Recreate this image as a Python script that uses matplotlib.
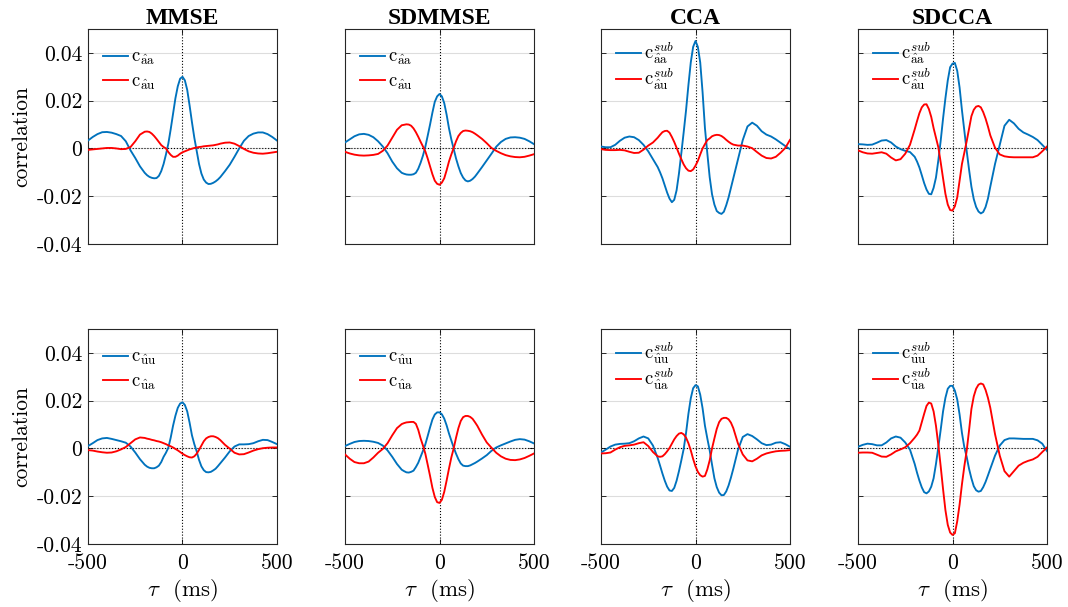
import matplotlib
matplotlib.use("Agg")
import matplotlib.pyplot as plt

plt.rcParams['font.family'] = ['cmr10', 'DejaVu Serif']
plt.rcParams['mathtext.fontset'] = 'cm'
plt.rcParams['axes.unicode_minus'] = False
plt.rcParams['axes.formatter.use_mathtext'] = True

# lag axis (ms): 25 ms steps outside, 12.5 ms steps in the centre
tau = list(range(-500, -199, 25)) + [t / 2 for t in range(-375, 376, 25)] + list(range(200, 501, 25))

# ===== top row: estimated target vs target / interferer =====
mmse_aa = [0.0033, 0.0048, 0.006, 0.0068, 0.0069, 0.0066, 0.006, 0.0052, 0.003, -0.0008, -0.004, -0.0075, -0.0102,
           -0.0112, -0.0119, -0.0123, -0.0125, -0.0124, -0.0115, -0.0095, -0.0065, -0.0025, 0.002, 0.008, 0.0145,
           0.021, 0.026, 0.0292, 0.030, 0.0285, 0.0245, 0.018, 0.011, 0.0045, -0.001, -0.0065, -0.0105, -0.013,
           -0.0143, -0.0149, -0.0148, -0.0144, -0.0138, -0.013,
           -0.012, -0.0095, -0.0068, -0.0035, 0.0, 0.0032, 0.0052, 0.0062, 0.0067, 0.0067, 0.006, 0.0048, 0.0033]
mmse_au = [-0.0006, -0.0004, -0.0002, 0.0, 0.0002, 0.0002, 0.0, -0.0003, -0.0002, 0.0006, 0.003, 0.0058, 0.007,
           0.0071, 0.0069, 0.0062, 0.0052, 0.004, 0.0027, 0.0014, 0.0006, 0.0, -0.0015, -0.0027, -0.0035,
           -0.0035, -0.003, -0.0022, -0.0016, -0.0012, -0.0008, -0.0004, -0.0001, 0.0002, 0.0004, 0.0006, 0.0007,
           0.0009, 0.001, 0.0011, 0.0012, 0.0013, 0.0015, 0.0017,
           0.002, 0.0024, 0.0025, 0.002, 0.001, -0.0002, -0.0012, -0.0018, -0.0021, -0.0022, -0.002, -0.0017, -0.0014]

sdmmse_aa = [0.0025, 0.0038, 0.0051, 0.0059, 0.0061, 0.0057, 0.0047, 0.003, 0.0008, -0.002, -0.0055, -0.0083, -0.0102,
             -0.0106, -0.0109, -0.011, -0.011, -0.0108, -0.0102, -0.0085, -0.006, -0.003, 0.0007, 0.0053, 0.01,
             0.015, 0.0195, 0.0218, 0.0228, 0.0218, 0.019, 0.0142, 0.0085, 0.0038, -0.0002, -0.0042, -0.0075,
             -0.0103, -0.0122, -0.0134, -0.0138, -0.0135, -0.0128, -0.0118,
             -0.0105, -0.0078, -0.005, -0.0022, 0.0007, 0.0027, 0.004, 0.0046, 0.0047, 0.0045, 0.004, 0.003, 0.0018]
sdmmse_au = [-0.0014, -0.0021, -0.0026, -0.0029, -0.003, -0.0029, -0.0027, -0.0023, -0.001, 0.0012, 0.0045, 0.0078, 0.0097,
             0.0099, 0.0101, 0.01, 0.0095, 0.0084, 0.0068, 0.0049, 0.0028, 0.0008, -0.0012, -0.0042, -0.0075,
             -0.0108, -0.0135, -0.0148, -0.0152, -0.0143, -0.0125, -0.0092, -0.0055, -0.0025, 0.0002, 0.003, 0.0052,
             0.0065, 0.0073, 0.0075, 0.0074, 0.0072, 0.0068, 0.0062,
             0.0055, 0.004, 0.0022, 0.0002, -0.001, -0.002, -0.0028, -0.0033, -0.0036, -0.0037, -0.0035, -0.003, -0.0024]

cca_aa = [0.0008, 0.0005, 0.0005, 0.0015, 0.0032, 0.0045, 0.005, 0.0047, 0.0035, 0.0015, -0.0012, -0.0045, -0.0078,
          -0.01, -0.0125, -0.0155, -0.0185, -0.021, -0.0225, -0.0215, -0.0175, -0.0105, -0.002, 0.0068, 0.016,
          0.0265, 0.036, 0.0425, 0.045, 0.0425, 0.036, 0.0235, 0.0085, -0.002, -0.012, -0.0192, -0.0235,
          -0.0262, -0.027, -0.0274, -0.0265, -0.0238, -0.0205, -0.0165,
          -0.0125, -0.0045, 0.0035, 0.0092, 0.0108, 0.0095, 0.0072, 0.0058, 0.005, 0.0038, 0.0024, 0.001, -0.0003]
cca_au = [-0.0003, -0.0006, -0.0007, -0.0007, -0.0006, -0.0008, -0.0014, -0.0019, -0.0018, -0.0005, 0.0012, 0.0025, 0.0045,
          0.0057, 0.0068, 0.0073, 0.0074, 0.0066, 0.0048, 0.0027, 0.0003, -0.0022, -0.0045, -0.0067, -0.0083,
          -0.0093, -0.0095, -0.0088, -0.0072, -0.0052, -0.0025, 0.0, 0.0018, 0.0035, 0.0042, 0.0051, 0.0055,
          0.0057, 0.0056, 0.0052, 0.0045, 0.0036, 0.0028, 0.0021,
          0.0016, 0.0012, 0.0012, 0.0008, 0.0001, -0.0015, -0.003, -0.004, -0.0042, -0.0035, -0.0018, 0.0002, 0.0036]

sdcca_aa = [0.0018, 0.0017, 0.0015, 0.0016, 0.0024, 0.0033, 0.0035, 0.0025, 0.0008, -0.0003, -0.001, -0.0015, -0.0035,
            -0.0055, -0.008, -0.0112, -0.0145, -0.0172, -0.019, -0.0192, -0.0165, -0.0122, -0.005, 0.0032, 0.0125,
            0.021, 0.0285, 0.034, 0.0355, 0.0358, 0.0325, 0.0255, 0.016, 0.0075, -0.001, -0.0088, -0.016,
            -0.0212, -0.0245, -0.0264, -0.0272, -0.0266, -0.0245, -0.021,
            -0.016, -0.0065, 0.0015, 0.0095, 0.012, 0.0105, 0.0082, 0.0067, 0.0058, 0.0048, 0.0035, 0.0015, -0.0006]
sdcca_au = [-0.0008, -0.0016, -0.0021, -0.0022, -0.0019, -0.0016, -0.0022, -0.0038, -0.005, -0.0045, -0.0022, 0.0015, 0.008,
            0.0115, 0.0148, 0.0172, 0.0184, 0.0185, 0.0165, 0.0132, 0.0085, 0.0045, 0.0005, -0.0058, -0.0125,
            -0.019, -0.0235, -0.0258, -0.026, -0.0242, -0.0205, -0.0135, -0.0065, -0.0018, 0.003, 0.0082, 0.0135,
            0.0162, 0.0175, 0.0178, 0.0172, 0.0152, 0.0125, 0.0092,
            0.0055, 0.0003, -0.0025, -0.0033, -0.0036, -0.0037, -0.0037, -0.0037, -0.0037, -0.0037, -0.003, -0.0012, 0.0008]

# ===== bottom row: estimated interferer vs interferer / target =====
mmse_uu = [0.001, 0.0022, 0.0035, 0.0042, 0.0044, 0.004, 0.0035, 0.003, 0.0024, 0.0008, -0.0017, -0.0045, -0.0068,
           -0.0076, -0.0081, -0.0083, -0.0083, -0.0079, -0.0072, -0.0057, -0.0035, -0.0018, 0.0003, 0.0045, 0.0095,
           0.0137, 0.017, 0.0188, 0.0193, 0.0182, 0.0155, 0.0108, 0.0055, 0.0018, -0.0012, -0.0048, -0.0075,
           -0.0091, -0.0099, -0.01, -0.0098, -0.0092, -0.0085, -0.0074,
           -0.0062, -0.0038, -0.0012, 0.0008, 0.0017, 0.0017, 0.0018, 0.0022, 0.003, 0.0036, 0.0035, 0.0027, 0.0018]
mmse_ua = [-0.0007, -0.0009, -0.0013, -0.0016, -0.0018, -0.0017, -0.0012, -0.0004, 0.0006, 0.0022, 0.0038, 0.0046, 0.0044,
           0.0041, 0.0039, 0.0036, 0.0034, 0.0031, 0.0029, 0.0026, 0.0022, 0.0018, 0.0013, 0.0009, 0.0004,
           -0.0002, -0.0008, -0.0015, -0.0022, -0.0028, -0.0033, -0.0037, -0.0038, -0.0033, -0.0022, -0.0006, 0.0012,
           0.003, 0.0042, 0.0048, 0.0051, 0.0051, 0.0048, 0.0043,
           0.0035, 0.0015, -0.0001, -0.0018, -0.0025, -0.0024, -0.0017, -0.0009, -0.0003, 0.0001, 0.0003, 0.0004, 0.0004]

sdmmse_uu = [0.001, 0.0019, 0.0027, 0.0031, 0.0032, 0.0031, 0.0028, 0.0023, 0.0012, -0.0008, -0.0035, -0.0065, -0.0089,
             -0.0095, -0.01, -0.0101, -0.0098, -0.0093, -0.0078, -0.006, -0.0035, -0.001, 0.0017, 0.0052, 0.0088,
             0.0121, 0.0142, 0.0151, 0.0151, 0.0143, 0.0125, 0.0097, 0.0063, 0.0033, 0.0004, -0.0022, -0.0045,
             -0.0063, -0.0072, -0.0074, -0.0074, -0.0071, -0.0066, -0.0061,
             -0.0055, -0.0042, -0.0028, -0.001, 0.0004, 0.0013, 0.0021, 0.0029, 0.0036, 0.0039, 0.0037, 0.003, 0.0021]
sdmmse_ua = [-0.0025, -0.0043, -0.0057, -0.0062, -0.0062, -0.0055, -0.0038, -0.0018, -0.0002, 0.0022, 0.0055, 0.0085, 0.0102,
             0.0106, 0.0109, 0.011, 0.0111, 0.0111, 0.0103, 0.0078, 0.0042, 0.0012, -0.0022, -0.0068, -0.0115,
             -0.0165, -0.0203, -0.0225, -0.0228, -0.0215, -0.0182, -0.0135, -0.0085, -0.0038, 0.0, 0.0045, 0.0085,
             0.0115, 0.0131, 0.0136, 0.0136, 0.0132, 0.0124, 0.011,
             0.0095, 0.0058, 0.0025, 0.0003, -0.0018, -0.0033, -0.0043, -0.0048, -0.0049, -0.0046, -0.004, -0.0031, -0.0021]

cca_uu = [-0.0017, -0.0005, 0.0008, 0.0016, 0.0019, 0.002, 0.0022, 0.003, 0.0042, 0.005, 0.0042, 0.0012, -0.004,
          -0.0072, -0.0105, -0.0135, -0.016, -0.0176, -0.0178, -0.0165, -0.0135, -0.0095, -0.005, -0.0002, 0.0065,
          0.0145, 0.021, 0.0252, 0.0265, 0.026, 0.0225, 0.0168, 0.0095, 0.0042, -0.0008, -0.0068, -0.0125,
          -0.0162, -0.0185, -0.0196, -0.0195, -0.018, -0.0155, -0.0122,
          -0.0085, -0.0005, 0.0048, 0.006, 0.0052, 0.0038, 0.0022, 0.0014, 0.0016, 0.0024, 0.0026, 0.0018, 0.0007]
cca_ua = [-0.0021, -0.002, -0.0017, -0.0005, 0.0005, 0.0011, 0.0013, 0.0016, 0.0022, 0.0026, 0.001, -0.0015, -0.0033,
          -0.0035, -0.0033, -0.0024, -0.0012, 0.0002, 0.002, 0.0038, 0.0052, 0.0062, 0.0065, 0.0059, 0.0045,
          0.0022, -0.0008, -0.0044, -0.0075, -0.0098, -0.0112, -0.0118, -0.0115, -0.0088, -0.005, 0.0, 0.0042,
          0.0082, 0.011, 0.0124, 0.0128, 0.0128, 0.0122, 0.0108,
          0.0085, 0.002, -0.0025, -0.005, -0.0054, -0.0043, -0.0029, -0.0021, -0.0016, -0.0012, -0.001, -0.0009, -0.0007]

sdcca_uu = [0.0007, 0.0015, 0.002, 0.0018, 0.0013, 0.0013, 0.0025, 0.0042, 0.005, 0.0045, 0.0025, -0.0005, -0.0065,
            -0.0102, -0.0135, -0.0163, -0.0183, -0.0188, -0.018, -0.016, -0.0125, -0.0065, 0.0005, 0.0078, 0.0155,
            0.0212, 0.025, 0.0262, 0.0262, 0.0242, 0.0205, 0.0142, 0.0065, 0.0005, -0.0035, -0.0085, -0.0125,
            -0.0158, -0.0175, -0.0181, -0.0178, -0.0162, -0.014, -0.0113,
            -0.0085, -0.003, 0.0012, 0.0035, 0.0042, 0.0042, 0.0041, 0.004, 0.004, 0.004, 0.0034, 0.002, -0.0011]
sdcca_ua = [-0.0018, -0.0017, -0.0017, -0.0018, -0.0026, -0.0034, -0.0035, -0.0025, -0.0012, -0.0004, 0.0005, 0.0022, 0.0045,
            0.0058, 0.0075, 0.011, 0.0145, 0.0178, 0.0192, 0.0188, 0.0155, 0.0095, 0.0015, -0.0075, -0.017,
            -0.0258, -0.032, -0.0352, -0.0362, -0.0355, -0.0305, -0.0235, -0.015, -0.0075, -0.001, 0.0075, 0.0165,
            0.0218, 0.025, 0.0267, 0.0272, 0.0268, 0.0245, 0.0212,
            0.017, 0.006, -0.003, -0.0095, -0.0118, -0.0095, -0.0072, -0.006, -0.0052, -0.0046, -0.0035, -0.0015, 0.0004]

titles = ["MMSE", "SDMMSE", "CCA", "SDCCA"]
top_blue = [mmse_aa, sdmmse_aa, cca_aa, sdcca_aa]
top_red = [mmse_au, sdmmse_au, cca_au, sdcca_au]
bot_blue = [mmse_uu, sdmmse_uu, cca_uu, sdcca_uu]
bot_red = [mmse_ua, sdmmse_ua, cca_ua, sdcca_ua]

lab_aa = r'$\mathrm{c}_{\hat{\mathrm{a}}\mathrm{a}}$'
lab_au = r'$\mathrm{c}_{\hat{\mathrm{a}}\mathrm{u}}$'
lab_uu = r'$\mathrm{c}_{\hat{\mathrm{u}}\mathrm{u}}$'
lab_ua = r'$\mathrm{c}_{\hat{\mathrm{u}}\mathrm{a}}$'
sub_aa = r'$\mathrm{c}^{sub}_{\hat{\mathrm{a}}\mathrm{a}}$'
sub_au = r'$\mathrm{c}^{sub}_{\hat{\mathrm{a}}\mathrm{u}}$'
sub_uu = r'$\mathrm{c}^{sub}_{\hat{\mathrm{u}}\mathrm{u}}$'
sub_ua = r'$\mathrm{c}^{sub}_{\hat{\mathrm{u}}\mathrm{a}}$'

yticks = [-0.04, -0.02, 0, 0.02, 0.04]
yticklabels = ["-0.04", "-0.02", "0", "0.02", "0.04"]
xticks = [-500, 0, 500]
xticklabels = ["-500", "0", "500"]

BLUE = '#0072BD'
RED = '#FF0000'

W, H = 1068, 607
fig = plt.figure(figsize=(W / 100, H / 100), dpi=100)

lefts = [88, 345, 601, 858]
tops = [29, 329]
aw, ah = 189, 215

for row in range(2):
    for col in range(4):
        ax = fig.add_axes([lefts[col] / W, 1 - (tops[row] + ah) / H, aw / W, ah / H])
        if row == 0:
            blue, red = top_blue[col], top_red[col]
            if col < 2:
                lb, lr = lab_aa, lab_au
            else:
                lb, lr = sub_aa, sub_au
        else:
            blue, red = bot_blue[col], bot_red[col]
            if col < 2:
                lb, lr = lab_uu, lab_ua
            else:
                lb, lr = sub_uu, sub_ua

        ax.axhline(0, color='black', linestyle=':', linewidth=0.8, zorder=1)
        ax.axvline(0, color='black', linestyle=':', linewidth=0.8, zorder=1)
        ax.plot(tau, blue, color=BLUE, linewidth=1.35, label=lb, zorder=3)
        ax.plot(tau, red, color=RED, linewidth=1.35, label=lr, zorder=3)

        ax.set_xlim(-500, 500)
        ax.set_ylim(-0.04, 0.05)
        ax.set_yticks(yticks)
        ax.set_xticks(xticks)
        ax.yaxis.grid(True, color='#dddddd', linewidth=0.8)
        ax.set_axisbelow(True)
        ax.tick_params(direction='in', top=True, right=True, length=3.5,
                       width=0.7, color='#262626', labelsize=15.5)
        ax.tick_params(axis='y', pad=4)
        ax.tick_params(axis='x', pad=7)
        for s in ax.spines.values():
            s.set_color('#262626')
            s.set_linewidth(0.8)

        if col == 0:
            ax.set_yticklabels(yticklabels)
            ax.set_ylabel("correlation", fontsize=15.5, labelpad=4)
        else:
            ax.set_yticklabels([])
        if row == 1:
            ax.set_xticklabels(xticklabels)
            ax.set_xlabel(r'$\tau$  (ms)', fontsize=16.5, labelpad=3)
        else:
            ax.set_xticklabels([])
            ax.set_title(titles[col], fontsize=17, fontweight='bold',
                         family='Liberation Serif', pad=3)

        if col < 2:
            ax.legend(loc='upper left', frameon=False, fontsize=13.5, handlelength=1.35,
                      handletextpad=0.15, labelspacing=0.3, borderaxespad=0.4,
                      bbox_to_anchor=(0.0, 0.98))
        else:
            ax.legend(loc='upper left', frameon=False, fontsize=13.5, handlelength=1.35,
                      handletextpad=0.15, labelspacing=0.0, borderaxespad=0.4,
                      bbox_to_anchor=(0.0, 1.015))

fig.savefig("out.png", dpi=100)
